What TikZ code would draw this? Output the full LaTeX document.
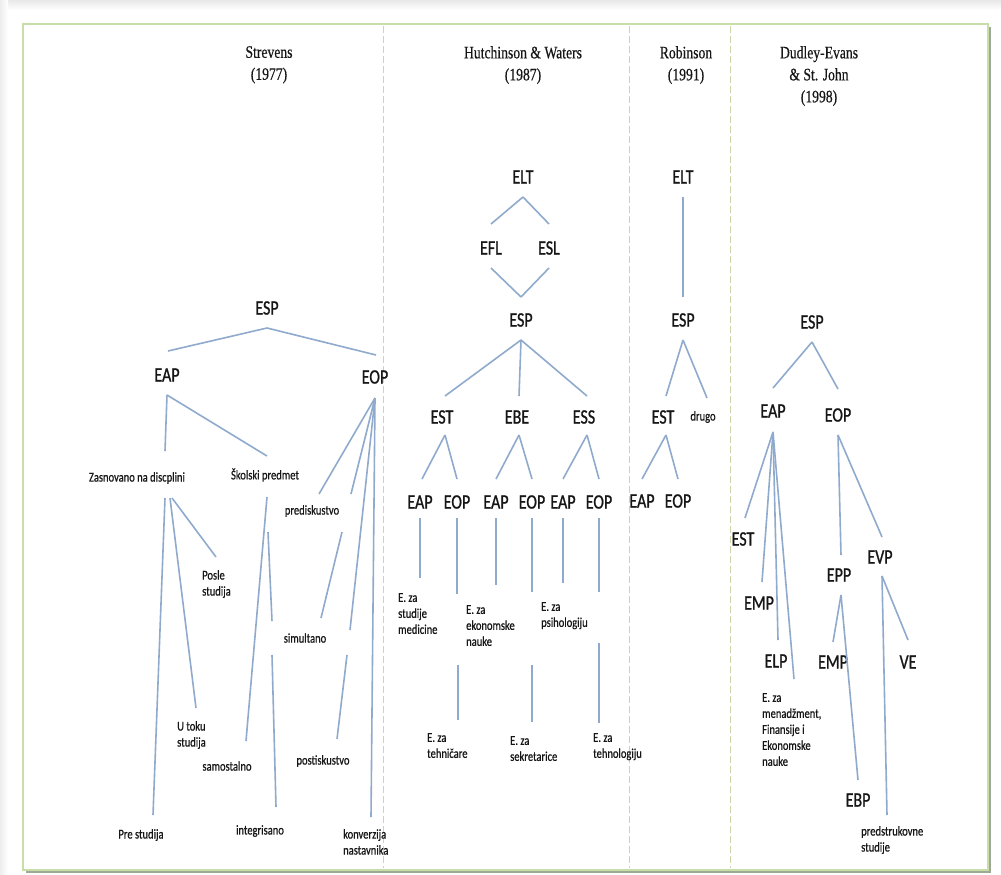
\documentclass[tikz,border=0pt]{standalone}
\usepackage{fontspec}
\newfontfamily\lblfont[FakeStretch=0.78,FakeBold=0.9]{Carlito}
\newfontfamily\smallfont[FakeStretch=0.78,FakeBold=0.6]{Carlito}
\newfontfamily\hdrfont[FakeStretch=0.78,FakeBold=0.4]{Liberation Serif}
\definecolor{linkblue}{RGB}{143,170,205}
\definecolor{ink}{RGB}{22,22,22}
\definecolor{sepgreen}{RGB}{205,214,170}
\definecolor{framegreen}{RGB}{200,222,168}
\definecolor{frameshadow}{RGB}{160,168,150}

\begin{document}
\begin{tikzpicture}[x=1pt,y=-1pt,
  link/.style={draw=linkblue, line width=1.6pt},
  big/.style={font=\lblfont\fontsize{20.5}{24}\selectfont, text=ink, inner sep=0pt},
  small/.style={font=\smallfont\fontsize{13.5}{16}\selectfont, text=ink, inner sep=0pt},
  multi/.style={small, align=left, anchor=north west},
  hdr/.style={font=\hdrfont\fontsize{17.5}{22}\selectfont, text=ink, inner sep=0pt, align=center, anchor=north},
  sep/.style={draw=sepgreen, line width=1pt, dash pattern=on 7pt off 3pt}]

% page and frame
\useasboundingbox (0,0) rectangle (1001,875);
\fill[white] (0,0) rectangle (1001,875);
\shade[top color=gray!18, bottom color=white] (0,0) rectangle (1001,10);
\shade[left color=gray!14, right color=white] (0,0) rectangle (8,875);
\fill[frameshadow] (26,27) rectangle (991,873);
\fill[white] (23,24) rectangle (988,870);
\draw[framegreen, line width=1.8pt] (23,24) rectangle (988,870);

% column separators
\draw[sep] (383,26) -- (383,868);
\draw[sep] (629,26) -- (629,868);
\draw[sep] (730,26) -- (730,868);

% column headers
\node[hdr] (hS) at (269,46) {Strevens\\(1977)};
\node[hdr] (hH) at (523,46) {Hutchinson \& Waters\\(1987)};
\node[hdr] (hR) at (686,46) {Robinson\\(1991)};
\node[hdr] (hD) at (819,46) {Dudley-Evans\\\& St. John\\(1998)};

% ---- Strevens (1977)
\node[big] (sESP) at (267,308) {ESP};
\node[big] (sEAP) at (167,375) {EAP};
\node[big] (sEOP) at (375,377) {EOP};
\node[small] (sZas) at (137,478) {Zasnovano na discplini};
\node[small] (sSko) at (265,475) {Školski predmet};
\node[small] (sPred) at (312,511) {prediskustvo};
\node[small] (sSim) at (305,638) {simultano};
\node[small] (sPost) at (323,761) {postiskustvo};
\node[small] (sSam) at (227,766) {samostalno};
\node[small] (sInt) at (260,831) {integrisano};
\node[small] (sPre) at (141,835) {Pre studija};
\node[multi] (sPosle) at (202,570) {Posle\\studija};
\node[multi] (sUtoku) at (177,721) {U toku\\studija};
\node[multi] (sKonv) at (343,829) {konverzija\\nastavnika};

% ---- Hutchinson & Waters (1987)
\node[big] (hELT) at (523,177) {ELT};
\node[big] (hEFL) at (491,248) {EFL};
\node[big] (hESL) at (549,248) {ESL};
\node[big] (hESP) at (521,320) {ESP};
\node[big] (hEST) at (442,417) {EST};
\node[big] (hEBE) at (517,417) {EBE};
\node[big] (hESS) at (584,417) {ESS};
\node[big] (hEAP1) at (420,502) {EAP};
\node[big] (hEOP1) at (457,502) {EOP};
\node[big] (hEAP2) at (496,502) {EAP};
\node[big] (hEOP2) at (532,502) {EOP};
\node[big] (hEAP3) at (563,502) {EAP};
\node[big] (hEOP3) at (599,502) {EOP};
\node[multi] (hMed) at (398,593) {E. za\\studije\\medicine};
\node[multi] (hEkon) at (466,605) {E. za\\ekonomske\\nauke};
\node[multi] (hPsih) at (541,602) {E. za\\psihologiju};
\node[multi] (hTeh) at (427,733) {E. za\\tehničare};
\node[multi] (hSek) at (510,736) {E. za\\sekretarice};
\node[multi] (hTehn) at (593,733) {E. za\\tehnologiju};

% ---- Robinson (1991)
\node[big] (rELT) at (683,177) {ELT};
\node[big] (rESP) at (683,320) {ESP};
\node[big] (rEST) at (663,417) {EST};
\node[small] (rDrugo) at (703,417) {drugo};
\node[big] (rEAP) at (642,501) {EAP};
\node[big] (rEOP) at (678,501) {EOP};

% ---- Dudley-Evans & St. John (1998)
\node[big] (dESP) at (812,322) {ESP};
\node[big] (dEAP) at (773,411) {EAP};
\node[big] (dEOP) at (838,415) {EOP};
\node[big] (dEST) at (743,539) {EST};
\node[big] (dEMP) at (759,603) {EMP};
\node[big] (dELP) at (776,661) {ELP};
\node[big] (dEPP) at (839,575) {EPP};
\node[big] (dEVP) at (880,557) {EVP};
\node[big] (dEMPb) at (833,662) {EMP};
\node[big] (dEBP) at (858,800) {EBP};
\node[big] (dVE) at (908,662) {VE};
\node[multi] (dMen) at (762,693) {E. za\\menadžment,\\Finansije i\\Ekonomske\\nauke};
\node[multi] (dPred) at (861,826) {predstrukovne\\studije};

% connector end points
\foreach \n/\x/\y in {
  sESPb/267/328, sEAPt/168/351, sEOPt/376/355,
  sEAPb/167/395, sZast/165/451, sSkot/267/456,
  sZasb1/165/498, sPreT/153/815, sZasb2/170/498, sUtokuT/196/708, sZasb3/172/498, sPosleT/216/557,
  sSkob1/267/497, sSamT/246/741, sSkob2/268/532, sSkoM/272/621, sIntB/272/655, sIntT/276/807,
  sEOPb/375/398, sPredT/319/494, sPredR/351/494, sSimR/350/630, sKonvT/371/817,
  sPredB/342/532, sSimT/321/618, sSimB/347/655, sPostT/337/739,
  hELTb/523/197, hEFLt/491/224, hESLt/549/224, hEFLb/491/268, hESLb/549/268,
  hESPt/521/297, hESPb/521/340, hESTt/445/396, hEBEt/519/396, hESSt/587/396,
  hESTb/445/435, hEBEb/519/435, hESSb/587/435,
  hAat/422/479, hOat/457/479, hAbt/496/479, hObt/532/479, hAct/563/479, hOct/599/479,
  hAab/420/518, hAae/420/578, hOab/457/518, hOae/457/594, hTehA/458/665, hTehB/458/720,
  hAbb/496/518, hAbe/496/585, hObb/532/518, hObe/532/592, hSekA/532/665, hSekB/532/722,
  hAcb/563/518, hAce/563/583, hOcb/599/518, hOce/599/592, hTehnA/599/643, hTehnB/599/723,
  rELTb/683/197, rESPt/683/297, rESPb/683/340, rESTt/666/396, rDrugoT/707/398,
  rESTb/666/435, rEAPt/642/479, rEOPt/678/479,
  dESPb/812/342, dEAPt/773/388, dEOPt/838/389,
  dEAPb/773/432, dESTt/745/518, dEMPt/762/582, dELPt/778/640, dMenT/794/679,
  dEOPb/838/435, dEPPt/841/555, dEVPt/882/537,
  dEPPb/841/595, dEMPbt/833/642, dEBPt/858/780,
  dEVPb/882/576, dVEt/908/640, dPredT/887/815}
  \coordinate (\n) at (\x,\y);

% ---- Strevens connectors
\draw[link] (sESPb) -- (sEAPt);
\draw[link] (sESPb) -- (sEOPt);
\draw[link] (sEAPb) -- (sZast);
\draw[link] (sEAPb) -- (sSkot);
\draw[link] (sZasb1) -- (sPreT);
\draw[link] (sZasb2) -- (sUtokuT);
\draw[link] (sZasb3) -- (sPosleT);
\draw[link] (sSkob1) -- (sSamT);
\draw[link] (sSkob2) -- (sSkoM);
\draw[link] (sIntB) -- (sIntT);
\draw[link] (sEOPb) -- (sPredT);
\draw[link] (sEOPb) -- (sPredR);
\draw[link] (sEOPb) -- (sSimR);
\draw[link] (sEOPb) -- (sKonvT);
\draw[link] (sPredB) -- (sSimT);
\draw[link] (sSimB) -- (sPostT);

% ---- Hutchinson & Waters connectors
\draw[link] (hELTb) -- (hEFLt);
\draw[link] (hELTb) -- (hESLt);
\draw[link] (hEFLb) -- (hESPt);
\draw[link] (hESLb) -- (hESPt);
\draw[link] (hESPb) -- (hESTt);
\draw[link] (hESPb) -- (hEBEt);
\draw[link] (hESPb) -- (hESSt);
\draw[link] (hESTb) -- (hAat);
\draw[link] (hESTb) -- (hOat);
\draw[link] (hEBEb) -- (hAbt);
\draw[link] (hEBEb) -- (hObt);
\draw[link] (hESSb) -- (hAct);
\draw[link] (hESSb) -- (hOct);
\draw[link] (hAab) -- (hAae);
\draw[link] (hOab) -- (hOae);
\draw[link] (hTehA) -- (hTehB);
\draw[link] (hAbb) -- (hAbe);
\draw[link] (hObb) -- (hObe);
\draw[link] (hSekA) -- (hSekB);
\draw[link] (hAcb) -- (hAce);
\draw[link] (hOcb) -- (hOce);
\draw[link] (hTehnA) -- (hTehnB);

% ---- Robinson connectors
\draw[link] (rELTb) -- (rESPt);
\draw[link] (rESPb) -- (rESTt);
\draw[link] (rESPb) -- (rDrugoT);
\draw[link] (rESTb) -- (rEAPt);
\draw[link] (rESTb) -- (rEOPt);

% ---- Dudley-Evans & St. John connectors
\draw[link] (dESPb) -- (dEAPt);
\draw[link] (dESPb) -- (dEOPt);
\draw[link] (dEAPb) -- (dESTt);
\draw[link] (dEAPb) -- (dEMPt);
\draw[link] (dEAPb) -- (dELPt);
\draw[link] (dEAPb) -- (dMenT);
\draw[link] (dEOPb) -- (dEPPt);
\draw[link] (dEOPb) -- (dEVPt);
\draw[link] (dEPPb) -- (dEMPbt);
\draw[link] (dEPPb) -- (dEBPt);
\draw[link] (dEVPb) -- (dVEt);
\draw[link] (dEVPb) -- (dPredT);
\end{tikzpicture}
\end{document}
